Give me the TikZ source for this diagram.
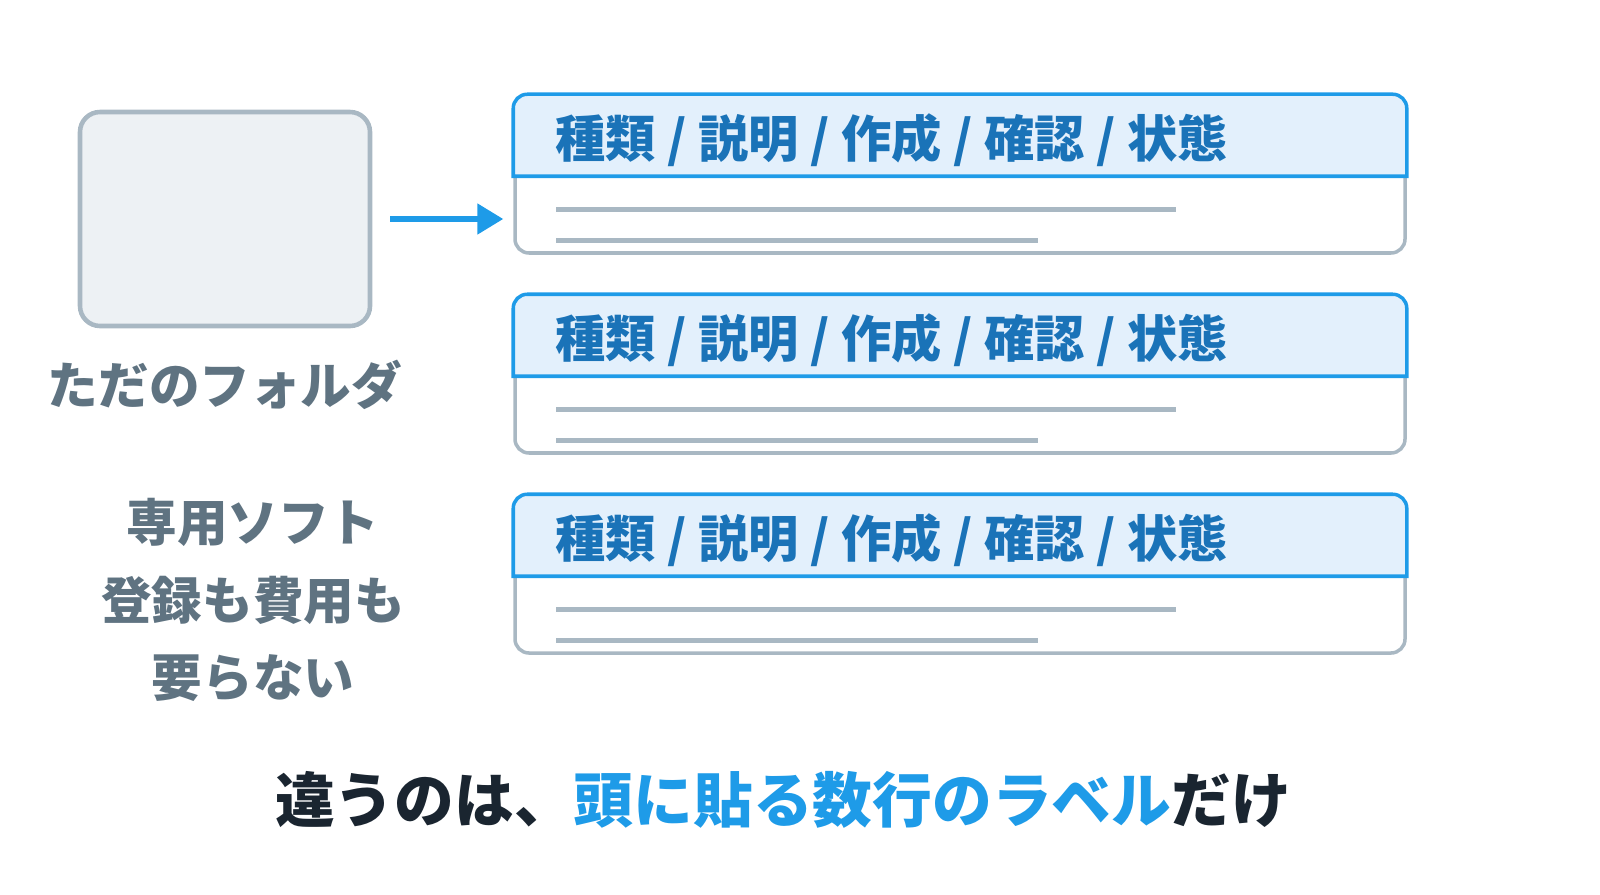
\documentclass[tikz,border=0pt]{standalone}
\usepackage{fontspec}
\setmainfont{Noto Sans CJK JP}
\usetikzlibrary{positioning,arrows.meta}
\definecolor{edge gray}{HTML}{A9B8C3}
\definecolor{folder fill}{HTML}{EDF1F4}
\definecolor{label gray}{HTML}{5F7381}
\definecolor{accent}{HTML}{1E9BE8}
\definecolor{head fill}{HTML}{E3F0FC}
\definecolor{head text}{HTML}{1A73B8}
\definecolor{ink}{HTML}{1A2530}
\tikzset{
  folder/.style={draw=edge gray, fill=folder fill, line width=1.3pt, rounded corners=0.2cm,
    minimum width=2.9cm, minimum height=2.14cm},
  card/.style={draw=edge gray, fill=white, line width=1pt, rounded corners=0.14cm,
    minimum width=8.9cm, minimum height=1.57cm},
  header/.style={draw=accent, fill=head fill, line width=1pt},
  rule/.style={draw=edge gray, line width=1.5pt},
  side text/.style={text=label gray, font=\fontsize{14.4}{22}\selectfont\bfseries, align=center},
  arrow/.style={draw=accent, line width=1.5pt, -{Triangle[length=0.26cm,width=0.3cm]}}
}
\begin{document}
\begin{tikzpicture}
  \clip (0,0) rectangle (16,8.94);
  \useasboundingbox (0,0) rectangle (16,8.94);

  % the folder on the left
  \node[folder] (folder) at (2.25,6.75) {};
  \node[side text] (plain) at (2.25,5.09) {ただのフォルダ};
  \node[side text] (nosoft) at (2.53,2.94) {専用ソフト\\登録も費用も\\要らない};

  % the three labelled files
  \foreach \i/\y in {1/7.195, 2/5.195, 3/3.195} {
    \node[card] (card\i) at (9.6,\y) {};
    \path[header] ([yshift=-0.82cm]card\i.north west)
      [rounded corners=0.14cm] -- (card\i.north west) -- (card\i.north east)
      [sharp corners] -- ([yshift=-0.82cm]card\i.north east) -- cycle;
    \node[anchor=west, text=head text, font=\fontsize{14.3}{16}\selectfont\bfseries]
      (head\i) at ([xshift=0.3cm,yshift=-0.46cm]card\i.north west)
      {種類 / 説明 / 作成 / 確認 / 状態};
    \path[rule] ([xshift=0.43cm,yshift=-1.15cm]card\i.north west) -- ++(6.2,0);
    \path[rule] ([xshift=0.43cm,yshift=-1.46cm]card\i.north west) -- ++(4.82,0);
  }

  % from folder to first file
  \path[arrow, shorten <=0.18cm, shorten >=0.1cm] (folder.east) -- (folder.east -| card1.west);

  % the bottom line
  \node[text=ink, font=\fontsize{17}{20}\selectfont\bfseries] (claim) at (7.83,0.94)
    {違うのは、\textcolor{accent}{頭に貼る数行のラベル}だけ};
\end{tikzpicture}
\end{document}
